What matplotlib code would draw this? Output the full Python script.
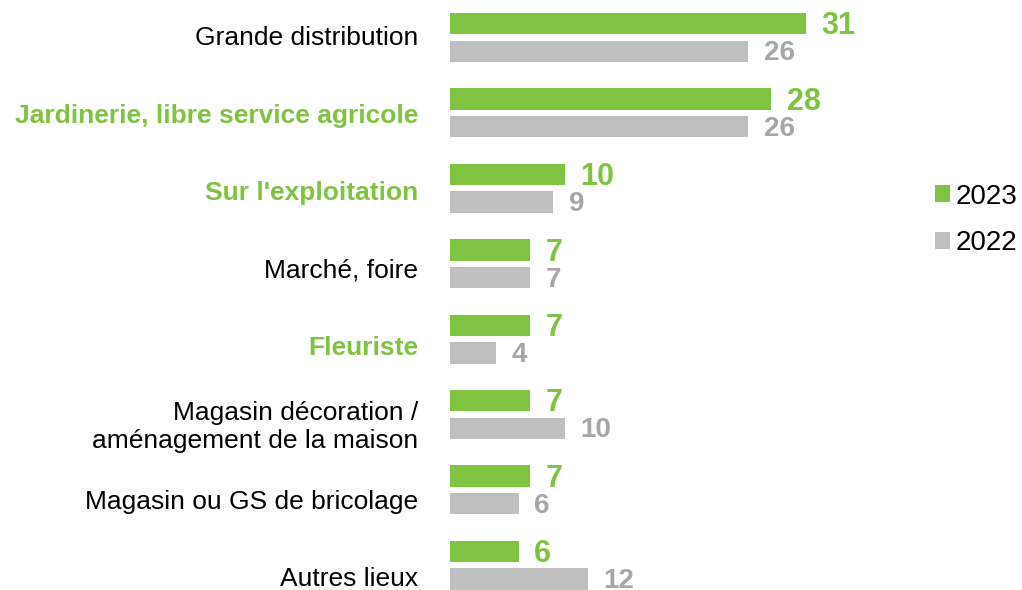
import matplotlib.pyplot as plt
import numpy as np

plt.rcParams["font.family"] = ["Liberation Sans", "DejaVu Sans"]

categories = [
    "Grande distribution",
    "Jardinerie, libre service agricole",
    "Sur l'exploitation",
    "Marché, foire",
    "Fleuriste",
    "Magasin décoration /\naménagement de la maison",
    "Magasin ou GS de bricolage",
    "Autres lieux",
]
vals_2023 = [31, 28, 10, 7, 7, 7, 7, 6]
vals_2022 = [26, 26, 9, 7, 4, 10, 6, 12]
highlighted = ["Jardinerie, libre service agricole", "Sur l'exploitation", "Fleuriste"]

GREEN = "#80C241"
GREY = "#BFBFBF"
GREY_TXT = "#A6A6A6"

fig = plt.figure(figsize=(10.22, 5.90), dpi=100)
ax = fig.add_axes([450 / 1022, 0, 450 / 1022, 1])

y = np.arange(len(categories))
off, h = 0.183, 0.285
ax.barh(y - off, vals_2023, height=h, color=GREEN, label="2023")
ax.barh(y + off, vals_2022, height=h, color=GREY, label="2022")

for yi, v in zip(y, vals_2023):
    ax.annotate(str(v), (v, yi - off), xytext=(11, -2), textcoords="offset points",
                va="center", ha="left", fontsize=22, fontweight="bold", color=GREEN)
for yi, v in zip(y, vals_2022):
    ax.annotate(str(v), (v, yi + off), xytext=(11, -1.5), textcoords="offset points",
                va="center", ha="left", fontsize=20, fontweight="bold", color=GREY_TXT,
                annotation_clip=False)

ax.set_xlim(0, 39.2)
ax.set_ylim(7.328, -0.497)
# category labels sit a little lower the further down the list they are
ax.set_yticks(y + 0.025 * y - 0.02)
ax.set_yticklabels(categories, fontsize=19, linespacing=1.2)
ax.tick_params(axis="y", length=0, pad=23)
for lbl in ax.get_yticklabels():
    if lbl.get_text() in highlighted:
        lbl.set_color(GREEN)
        lbl.set_fontweight("bold")
ax.set_xticks([])
for s in ax.spines.values():
    s.set_visible(False)

fig.legend(loc="center left", bbox_to_anchor=(910 / 1022, 1 - 220 / 590),
           frameon=False, fontsize=20, handlelength=0.55, handleheight=0.55,
           handletextpad=0.2, labelspacing=0.75)

fig.savefig("out.png", dpi=100)
